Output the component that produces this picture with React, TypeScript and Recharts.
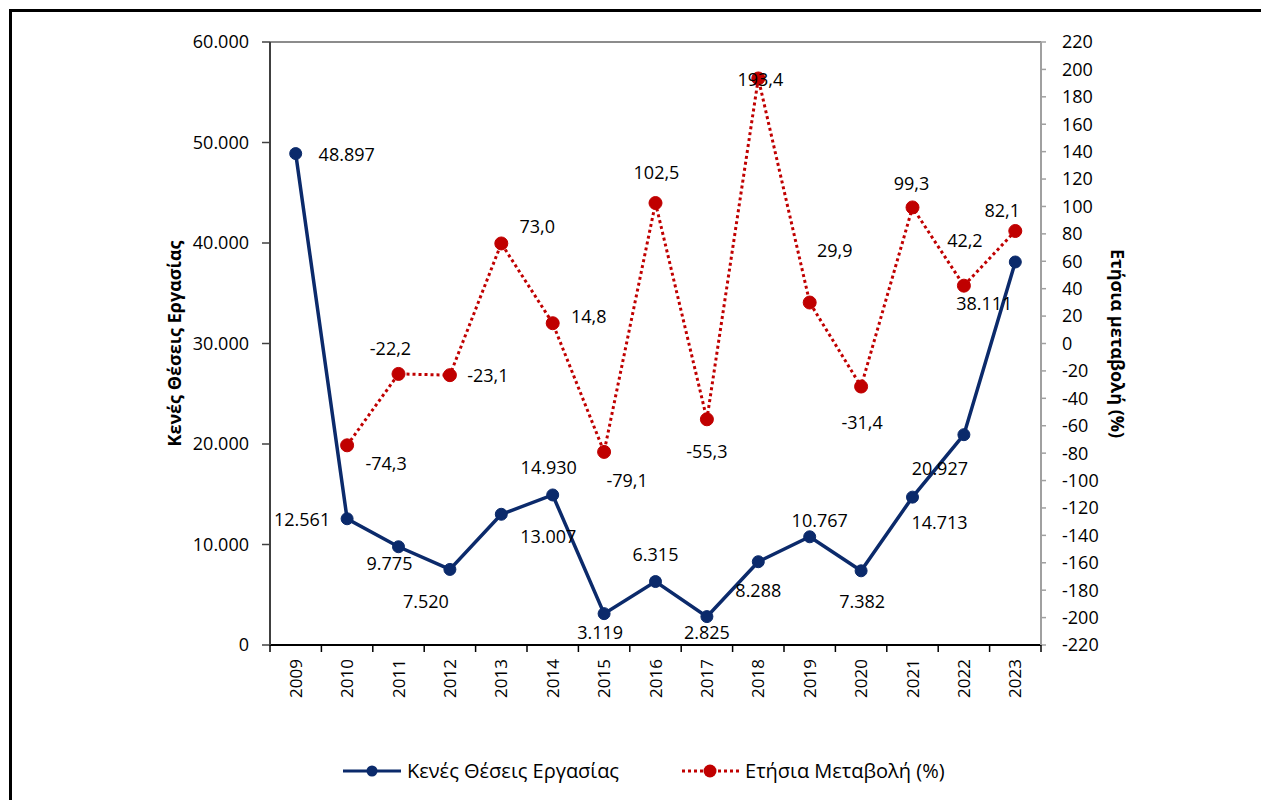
import React from 'react';
import { LineChart, Line, XAxis, YAxis, Legend, ReferenceLine, LabelList } from 'recharts';

const YEARS = ['2009', '2010', '2011', '2012', '2013', '2014', '2015', '2016', '2017', '2018', '2019', '2020', '2021', '2022', '2023'];
const VACANCIES = [48897, 12561, 9775, 7520, 13007, 14930, 3119, 6315, 2825, 8288, 10767, 7382, 14713, 20927, 38111];
const CHANGE: (number | null)[] = [null, -74.3, -22.2, -23.1, 73.0, 14.8, -79.1, 102.5, -55.3, 193.4, 29.9, -31.4, 99.3, 42.2, 82.1];
const LEFT_TICKS = [0, 10000, 20000, 30000, 40000, 50000, 60000];
const RIGHT_TICKS = [-220, -200, -180, -160, -140, -120, -100, -80, -60, -40, -20, 0, 20, 40, 60, 80, 100, 120, 140, 160, 180, 200, 220];

const SERIES_VAC = 'Κενές Θέσεις Εργασίας';
const SERIES_CHG = 'Ετήσια Μεταβολή (%)';
const LEFT_TITLE = 'Κενές Θέσεις Εργασίας';
const RIGHT_TITLE = 'Ετήσια μεταβολή (%)';

// label placement offsets (layout only)
const VAC_LABEL_OFFSETS = [[51, 0], [-45, 0], [-9, 16], [-24, 32], [47, 22], [-4, -28], [-4, 18], [0, -28], [0, 15], [0, 28], [10, -17], [1, 30], [27, 25], [-24, 33], [-31, 41]];
const CHG_LABEL_OFFSETS = [[0, 0], [39, 18], [-8, -26], [38, 0], [36, -17], [36, -7], [23, 28], [1, -31], [0, 32], [2, 1], [25, -53], [1, 35], [-1, -24], [1, -46], [-13, -21]];

const data = YEARS.map((year, i) => ({ year, vac: VACANCIES[i], chg: CHANGE[i] }));

const W = 1261;
const H = 800;
const MARGIN = { top: 42, right: 100, bottom: 90, left: 150 };
const Y_AXIS_W = 120;
const PLOT_W = W - MARGIN.left - MARGIN.right - 2 * Y_AXIS_W;
const BAND = PLOT_W / YEARS.length;

const FONT = "'Open Sans', sans-serif";
const NAVY = '#0b2a6b';
const RED = '#c00000';

const fmtThousands = (v: number) => String(v).replace(/\B(?=(\d{3})+(?!\d))/g, '.');
const fmtPct = (v: number) => v.toFixed(1).replace('.', ',');

const YearTick = (props: any) => {
  const { x, y, payload, index } = props;
  const last = index === YEARS.length - 1;
  return (
    <g>
      <line x1={x - BAND / 2} y1={y} x2={x - BAND / 2} y2={y + 7} stroke="#000" strokeWidth={1.5} />
      {last && <line x1={x + BAND / 2} y1={y} x2={x + BAND / 2} y2={y + 7} stroke="#000" strokeWidth={1.5} />}
      <text
        x={x + 6}
        y={y + 14}
        transform={`rotate(-90 ${x + 6} ${y + 14})`}
        textAnchor="end"
        fontSize={17}
        fontFamily={FONT}
        fill="#000"
      >
        {payload.value}
      </text>
    </g>
  );
};

const makeLabel = (offsets: number[][], fmt: (v: number) => string) => (props: any) => {
  const { x, y, value, index } = props;
  if (value === null || value === undefined) return null;
  const [dx, dy] = offsets[index] || [0, 0];
  return (
    <text x={x + dx} y={y + dy} textAnchor="middle" dominantBaseline="central" fontSize={18} fontFamily={FONT} fill="#000">
      {fmt(value)}
    </text>
  );
};

const RedDot = (props: any) => {
  const { cx, cy, value } = props;
  if (value === null || value === undefined || cx == null || cy == null) return null;
  return <circle cx={cx} cy={cy} r={6.5} fill={RED} stroke={RED} strokeWidth={1} />;
};

const BlueDot = (props: any) => {
  const { cx, cy } = props;
  if (cx == null || cy == null) return null;
  return <circle cx={cx} cy={cy} r={6} fill={NAVY} stroke={NAVY} strokeWidth={1} />;
};

const LeftTitle = (props: any) => {
  const vb = props.viewBox;
  const x = vb.x + 24;
  const y = vb.y + vb.height / 2;
  return (
    <text x={x} y={y} transform={`rotate(-90 ${x} ${y})`} textAnchor="middle" dominantBaseline="central" fontSize={18} fontWeight="bold" fontFamily={FONT} fill="#000">
      {LEFT_TITLE}
    </text>
  );
};

const RightTitle = (props: any) => {
  const vb = props.viewBox;
  const x = vb.x + 77;
  const y = vb.y + vb.height / 2;
  return (
    <text x={x} y={y} transform={`rotate(90 ${x} ${y})`} textAnchor="middle" dominantBaseline="central" fontSize={18} fontWeight="bold" fontFamily={FONT} fill="#000">
      {RIGHT_TITLE}
    </text>
  );
};

const LegendContent = () => (
  <div style={{ display: 'flex', alignItems: 'center', fontFamily: FONT, fontSize: 20, color: '#000', whiteSpace: 'nowrap' }}>
    <svg width={58} height={16} style={{ marginRight: 6 }}>
      <line x1={0} y1={8} x2={58} y2={8} stroke={NAVY} strokeWidth={3} />
      <circle cx={29} cy={8} r={5.5} fill={NAVY} />
    </svg>
    <span>{SERIES_VAC}</span>
    <svg width={58} height={16} style={{ marginLeft: 62, marginRight: 6 }}>
      <line x1={1} y1={8} x2={58} y2={8} stroke={RED} strokeWidth={3} strokeDasharray="3 3" />
      <circle cx={29} cy={8} r={6.5} fill={RED} />
    </svg>
    <span>{SERIES_CHG}</span>
  </div>
);

export default function App() {
  return (
    <div style={{ position: 'absolute', top: 0, left: 0, width: W, height: H, background: '#fff', overflow: 'hidden' }}>
      <div style={{ position: 'absolute', left: 9, top: 9, width: 1400, height: 1000, borderTop: '3px solid #000', borderLeft: '3px solid #000' }} />
      <div style={{ position: 'absolute', top: 0, left: 0 }}>
        <LineChart width={W} height={H} data={data} margin={MARGIN} style={{ fontFamily: FONT }}>
          <ReferenceLine yAxisId="left" y={60000} stroke="#8c8c8c" strokeWidth={2} />
          <XAxis
            dataKey="year"
            height={65}
            interval={0}
            padding={{ left: BAND / 2, right: BAND / 2 }}
            tickLine={false}
            tickSize={0}
            tickMargin={0}
            axisLine={{ stroke: '#000', strokeWidth: 2 }}
            tick={<YearTick />}
          />
          <YAxis
            yAxisId="left"
            width={Y_AXIS_W}
            domain={[0, 60000]}
            ticks={LEFT_TICKS}
            interval={0}
            tickFormatter={fmtThousands}
            axisLine={{ stroke: '#404040', strokeWidth: 2 }}
            tickLine={{ stroke: '#404040', strokeWidth: 1.5 }}
            tickSize={8}
            tickMargin={13}
            tick={{ fill: '#000', fontSize: 18, fontFamily: FONT }}
            label={<LeftTitle />}
          />
          <YAxis
            yAxisId="right"
            orientation="right"
            width={Y_AXIS_W}
            domain={[-220, 220]}
            ticks={RIGHT_TICKS}
            interval={0}
            axisLine={{ stroke: '#a0a0a0', strokeWidth: 2 }}
            tickLine={{ stroke: '#a0a0a0', strokeWidth: 1.5 }}
            tickSize={5}
            tickMargin={16}
            tick={{ fill: '#000', fontSize: 18, fontFamily: FONT }}
            label={<RightTitle />}
          />
          <Line
            yAxisId="left"
            type="linear"
            dataKey="vac"
            name={SERIES_VAC}
            stroke={NAVY}
            strokeWidth={3.5}
            dot={<BlueDot />}
            activeDot={false}
            isAnimationActive={false}
          >
            <LabelList dataKey="vac" content={makeLabel(VAC_LABEL_OFFSETS, fmtThousands)} />
          </Line>
          <Line
            yAxisId="right"
            type="linear"
            dataKey="chg"
            name={SERIES_CHG}
            stroke={RED}
            strokeWidth={3}
            strokeDasharray="3 3"
            dot={<RedDot />}
            activeDot={false}
            connectNulls={false}
            isAnimationActive={false}
          >
            <LabelList dataKey="chg" content={makeLabel(CHG_LABEL_OFFSETS, fmtPct)} />
          </Line>
          <Legend
            layout="horizontal"
            verticalAlign="middle"
            align="center"
            content={<LegendContent />}
            wrapperStyle={{ top: 757, left: 343, width: 800, height: 22 }}
          />
        </LineChart>
      </div>
    </div>
  );
}
